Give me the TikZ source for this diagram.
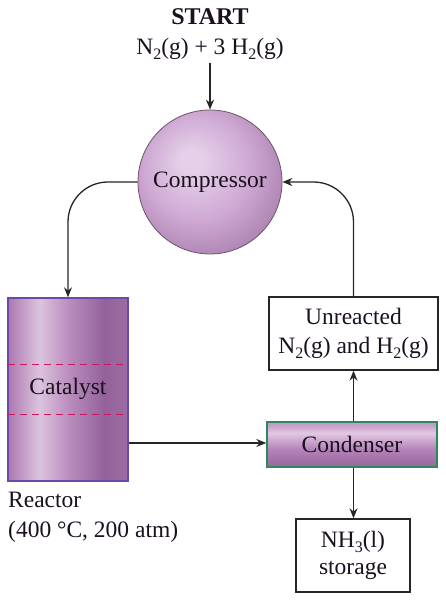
\documentclass[tikz,border=0pt]{standalone}
\usepackage{fontspec}
\setmainfont{Liberation Serif}
\usetikzlibrary{arrows.meta,calc}
\newcommand\chemsub[1]{\raisebox{-0.22em}{\fontsize{16}{16}\selectfont #1}}
\definecolor{txt}{HTML}{1A1020}
\definecolor{r1}{HTML}{AC78B0}
\definecolor{r2}{HTML}{DCC4DE}
\definecolor{r3}{HTML}{BA8EBE}
\definecolor{r4}{HTML}{93629A}
\definecolor{r5}{HTML}{9C6CA2}
\definecolor{c1}{HTML}{96669C}
\definecolor{c2}{HTML}{B484B8}
\definecolor{c3}{HTML}{E2C8E4}
\definecolor{c4}{HTML}{C49CC8}
\definecolor{s1}{HTML}{E4D0E8}
\definecolor{s2}{HTML}{CFAAD4}
\definecolor{s3}{HTML}{AE84B2}
\definecolor{s4}{HTML}{936898}
\definecolor{reacborder}{HTML}{6A4AA8}
\definecolor{dashred}{HTML}{C8185E}
\definecolor{condborder}{HTML}{2A8A5A}
\definecolor{sphborder}{HTML}{6E5468}
\pgfdeclarehorizontalshading{reacshade}{100bp}{color(0bp)=(r1); color(25bp)=(r1); color(38bp)=(r2); color(50bp)=(r3); color(65bp)=(r4); color(75bp)=(r5); color(100bp)=(r5)}
\pgfdeclareverticalshading{condshade}{100bp}{color(0bp)=(c1); color(25bp)=(c1); color(45bp)=(c2); color(63bp)=(c3); color(72bp)=(c4); color(75bp)=(c4); color(100bp)=(c4)}
\pgfdeclareradialshading{sphshade}{\pgfpoint{-7bp}{8bp}}{color(0bp)=(s1); color(4bp)=(s1); color(18bp)=(s2); color(30bp)=(s3); color(36bp)=(s4); color(50bp)=(s4)}
\tikzset{
  mainfont/.style={font=\rmfamily\fontsize{23.5}{29}\selectfont},
  every node/.style={text=txt, mainfont, align=center},
  conn/.style={line width=1.3pt, draw=black!85, -{Stealth[length=10pt,width=8pt]}},
  plainbox/.style={draw=black!85, line width=1.4pt, fill=white, inner sep=0pt},
}
\begin{document}
\begin{tikzpicture}[x=1pt,y=1pt]
\useasboundingbox (0,0) rectangle (446,600);
\node[font=\rmfamily\fontsize{24}{29}\selectfont\bfseries] (start) at (210,583) {START};
\node (feed) at (210,551) {N\chemsub{2}(g) + 3 H\chemsub{2}(g)};
\node[circle, minimum size=144pt, inner sep=0pt, shading=sphshade, draw=sphborder, line width=0.8pt] (comp) at (210,418) {};
\node (comptext) at (comp.center) {Compressor};
\node[rectangle, minimum width=120pt, minimum height=183pt, inner sep=0pt, shading=reacshade, draw=reacborder, line width=1.4pt] (reactor) at (68,210.5) {};
\draw[dashred, line width=1.1pt, dash pattern=on 7pt off 5pt] ($(reactor.north west)+(1,-67)$) coordinate (d1a) -- ($(reactor.north east)+(-1,-67)$) coordinate (d1b);
\draw[dashred, line width=1.1pt, dash pattern=on 7pt off 5pt] ($(reactor.north west)+(1,-117)$) coordinate (d2a) -- ($(reactor.north east)+(-1,-117)$) coordinate (d2b);
\node (cat) at (68,211) {Catalyst};
\node[anchor=base west, inner sep=0pt, align=left] (rlab1) at (8,92) {Reactor};
\node[anchor=base west, inner sep=0pt, align=left] (rlab2) at (8,62) {(400 °C, 200 atm)};
\node[rectangle, minimum width=170pt, minimum height=45pt, inner sep=0pt, shading=condshade, draw=condborder, line width=1.4pt] (cond) at (352,155.5) {};
\node (condtext) at (cond.center) {Condenser};
\node[plainbox, minimum width=169pt, minimum height=73pt] (unr) at (353.5,266.5) {Unreacted\\N\chemsub{2}(g) and H\chemsub{2}(g)};
\node[plainbox, minimum width=114pt, minimum height=73pt, font=\rmfamily\fontsize{23.5}{27}\selectfont] (stor) at (353,44.5) {NH\chemsub{3}(l)\\storage};
\draw[conn] (feed.south) -- (comp.north);
\draw[conn, rounded corners=40pt] (comp.west) -| (reactor.north);
\draw[conn, rounded corners=40pt] (unr.north) |- (comp.east);
\draw[conn] (reactor.east |- 0,157) -- (cond.west |- 0,157);
\draw[conn] (cond.north -| unr.south) -- (unr.south);
\draw[conn] (cond.south -| unr.south) -- (stor.north -| unr.south);
\end{tikzpicture}
\end{document}
